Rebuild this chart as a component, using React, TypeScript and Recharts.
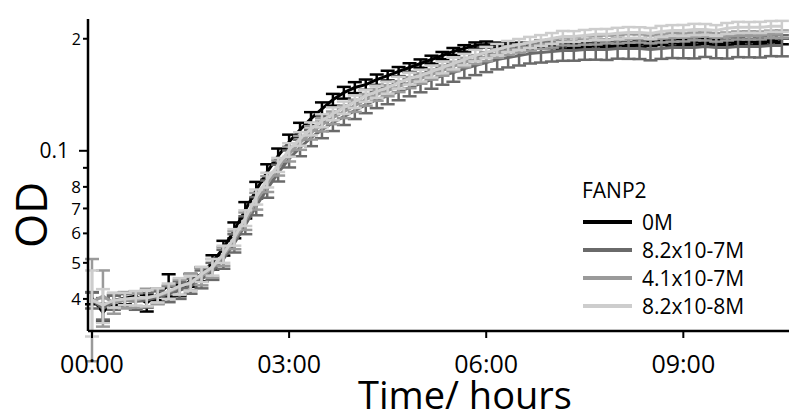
import React from 'react';
import { LineChart, Line, XAxis, YAxis, ErrorBar, Legend, Label } from 'recharts';

// sampling times, minutes from start
const times = [
  0, 10, 20, 30, 40, 50, 60, 70, 80, 90, 100, 110, 120, 130, 140, 150,
  160, 170, 180, 190, 200, 210, 220, 230, 240, 250, 260, 270, 280, 290, 300, 310,
  320, 330, 340, 350, 360, 370, 380, 390, 400, 410, 420, 430, 440, 450, 460, 470,
  480, 490, 500, 510, 520, 530, 540, 550, 560, 570, 580, 590, 600, 610, 620, 630,
];

// OD readings per FANP2 concentration
const od0M = [
  0.0402, 0.0368, 0.0397, 0.0402, 0.0407, 0.0390, 0.0412, 0.0436, 0.0422, 0.0449, 0.0466, 0.0502, 0.0548, 0.0612, 0.0693, 0.0785,
  0.0878, 0.0969, 0.1057, 0.1139, 0.1220, 0.1297, 0.1372, 0.1433, 0.1479, 0.1506, 0.1553, 0.1593, 0.1633, 0.1674, 0.1716, 0.1759,
  0.1803, 0.1849, 0.1884, 0.1919, 0.1931, 0.1919, 0.1919, 0.1919, 0.1907, 0.1919, 0.1919, 0.1907, 0.1919, 0.1919, 0.1907, 0.1919,
  0.1919, 0.1931, 0.1931, 0.1943, 0.1955, 0.1943, 0.1955, 0.1955, 0.1967, 0.1955, 0.1955, 0.1967, 0.1955, 0.1967, 0.1955, 0.1967,
];
const od82e7 = [
  0.0397, 0.0377, 0.0392, 0.0397, 0.0394, 0.0397, 0.0404, 0.0412, 0.0422, 0.0433, 0.0452, 0.0475, 0.0512, 0.0565, 0.0632, 0.0711,
  0.0790, 0.0872, 0.0952, 0.1019, 0.1084, 0.1139, 0.1190, 0.1235, 0.1282, 0.1330, 0.1372, 0.1406, 0.1442, 0.1479, 0.1516, 0.1553,
  0.1593, 0.1623, 0.1663, 0.1695, 0.1727, 0.1759, 0.1781, 0.1803, 0.1826, 0.1838, 0.1849, 0.1860, 0.1860, 0.1872, 0.1872, 0.1872,
  0.1884, 0.1884, 0.1884, 0.1872, 0.1884, 0.1895, 0.1895, 0.1895, 0.1907, 0.1895, 0.1895, 0.1907, 0.1907, 0.1907, 0.1919, 0.1919,
];
const od41e7 = [
  0.0392, 0.0407, 0.0390, 0.0397, 0.0397, 0.0404, 0.0407, 0.0417, 0.0430, 0.0444, 0.0460, 0.0484, 0.0521, 0.0576, 0.0648, 0.0733,
  0.0815, 0.0900, 0.0981, 0.1051, 0.1118, 0.1175, 0.1227, 0.1274, 0.1322, 0.1372, 0.1415, 0.1451, 0.1488, 0.1525, 0.1564, 0.1603,
  0.1643, 0.1685, 0.1727, 0.1759, 0.1791, 0.1826, 0.1860, 0.1884, 0.1907, 0.1931, 0.1943, 0.1967, 0.1967, 0.1980, 0.1980, 0.1992,
  0.1992, 0.2004, 0.2004, 0.1992, 0.2004, 0.2017, 0.2017, 0.2029, 0.2029, 0.2017, 0.2029, 0.2042, 0.2042, 0.2042, 0.2055, 0.2055,
];
const od82e8 = [
  0.0397, 0.0385, 0.0397, 0.0400, 0.0402, 0.0402, 0.0409, 0.0420, 0.0433, 0.0441, 0.0466, 0.0487, 0.0528, 0.0586, 0.0660, 0.0752,
  0.0835, 0.0917, 0.1006, 0.1077, 0.1146, 0.1205, 0.1258, 0.1306, 0.1355, 0.1406, 0.1442, 0.1479, 0.1525, 0.1564, 0.1593, 0.1633,
  0.1674, 0.1716, 0.1759, 0.1803, 0.1838, 0.1872, 0.1907, 0.1931, 0.1955, 0.1980, 0.2004, 0.2029, 0.2029, 0.2042, 0.2055, 0.2055,
  0.2068, 0.2080, 0.2080, 0.2068, 0.2093, 0.2106, 0.2106, 0.2119, 0.2119, 0.2106, 0.2133, 0.2146, 0.2146, 0.2146, 0.2160, 0.2160,
];

// standard errors
const err0M = [
  0.0015, 0.0020, 0.0012, 0.0015, 0.0012, 0.0020, 0.0015, 0.0030, 0.0015, 0.0018, 0.0020, 0.0022, 0.0025, 0.0030, 0.0035, 0.0040,
  0.0042, 0.0045, 0.0048, 0.0050, 0.0050, 0.0052, 0.0050, 0.0052, 0.0050, 0.0048, 0.0050, 0.0048, 0.0046, 0.0045, 0.0044, 0.0042,
  0.0040, 0.0040, 0.0038, 0.0036, 0.0035, 0.0034, 0.0034, 0.0033, 0.0034, 0.0033, 0.0032, 0.0034, 0.0031, 0.0033, 0.0035, 0.0032,
  0.0033, 0.0030, 0.0034, 0.0033, 0.0032, 0.0035, 0.0031, 0.0033, 0.0034, 0.0032, 0.0030, 0.0033, 0.0035, 0.0032, 0.0033, 0.0034,
];
const err82e7 = [
  0.0020, 0.0025, 0.0018, 0.0015, 0.0020, 0.0018, 0.0015, 0.0020, 0.0022, 0.0020, 0.0025, 0.0025, 0.0030, 0.0032, 0.0035, 0.0040,
  0.0042, 0.0045, 0.0050, 0.0052, 0.0055, 0.0058, 0.0060, 0.0062, 0.0065, 0.0068, 0.0070, 0.0072, 0.0075, 0.0078, 0.0080, 0.0085,
  0.0088, 0.0090, 0.0095, 0.0098, 0.0100, 0.0104, 0.0106, 0.0108, 0.0110, 0.0112, 0.0112, 0.0115, 0.0114, 0.0116, 0.0115, 0.0118,
  0.0116, 0.0118, 0.0120, 0.0122, 0.0118, 0.0120, 0.0122, 0.0124, 0.0120, 0.0122, 0.0125, 0.0122, 0.0124, 0.0126, 0.0123, 0.0125,
];
const err41e7 = [
  0.0120, 0.0070, 0.0025, 0.0020, 0.0018, 0.0022, 0.0020, 0.0018, 0.0020, 0.0022, 0.0025, 0.0028, 0.0030, 0.0032, 0.0035, 0.0038,
  0.0040, 0.0042, 0.0045, 0.0045, 0.0046, 0.0048, 0.0048, 0.0050, 0.0050, 0.0050, 0.0052, 0.0050, 0.0050, 0.0052, 0.0050, 0.0050,
  0.0052, 0.0050, 0.0050, 0.0048, 0.0050, 0.0048, 0.0050, 0.0048, 0.0050, 0.0052, 0.0050, 0.0048, 0.0050, 0.0052, 0.0050, 0.0048,
  0.0050, 0.0052, 0.0050, 0.0048, 0.0050, 0.0052, 0.0050, 0.0048, 0.0050, 0.0052, 0.0050, 0.0050, 0.0052, 0.0050, 0.0048, 0.0050,
];
const err82e8 = [
  0.0080, 0.0040, 0.0018, 0.0015, 0.0018, 0.0020, 0.0018, 0.0020, 0.0022, 0.0020, 0.0022, 0.0025, 0.0028, 0.0030, 0.0032, 0.0035,
  0.0038, 0.0040, 0.0042, 0.0045, 0.0046, 0.0048, 0.0050, 0.0050, 0.0052, 0.0052, 0.0054, 0.0055, 0.0056, 0.0058, 0.0058, 0.0060,
  0.0060, 0.0062, 0.0062, 0.0064, 0.0064, 0.0065, 0.0066, 0.0066, 0.0068, 0.0066, 0.0068, 0.0070, 0.0068, 0.0070, 0.0068, 0.0070,
  0.0072, 0.0070, 0.0068, 0.0070, 0.0072, 0.0070, 0.0072, 0.0074, 0.0072, 0.0070, 0.0072, 0.0074, 0.0072, 0.0074, 0.0072, 0.0074,
];

const yTicks = [0.04, 0.05, 0.06, 0.07, 0.08, 0.09, 0.1, 0.2];
const yTickLabels = ['4', '5', '6', '7', '8', '', '0.1', '2'];
const xTicks = [0, 180, 360, 540];

const series = [
  { key: 'c0', err: 'e0', name: '0M', color: '#000000' },
  { key: 'c1', err: 'e1', name: '8.2x10-7M', color: '#6a6a6a' },
  { key: 'c2', err: 'e2', name: '4.1x10-7M', color: '#9a9a9a' },
  { key: 'c3', err: 'e3', name: '8.2x10-8M', color: '#cdcdcd' },
];

const data = times.map((t, i) => ({
  t,
  c0: od0M[i], c1: od82e7[i], c2: od41e7[i], c3: od82e8[i],
  e0: err0M[i], e1: err82e7[i], e2: err41e7[i], e3: err82e8[i],
}));

const fmtTime = (m: number) => {
  const h = Math.floor(m / 60);
  const mm = m % 60;
  return `${String(h).padStart(2, '0')}:${String(mm).padStart(2, '0')}`;
};

const YTick = (props: any) => {
  const { x, y, payload } = props;
  const idx = yTicks.indexOf(payload.value);
  const label = yTickLabels[idx] ?? '';
  const long = payload.value === 0.1;
  const len = long ? 9 : 5;
  const size = long ? 21 : payload.value === 0.2 ? 16 : 17;
  return (
    <g>
      <line x1={x - len} x2={x} y1={y} y2={y} stroke="#000" strokeWidth={2} />
      {label && (
        <text x={x - len - (long ? 10 : 2)} y={y} dy="0.36em" textAnchor="end" fontSize={size} fill="#000">
          {label}
        </text>
      )}
    </g>
  );
};

// legend drawn in series order (recharts would sort the names)
const LegendBox = () => (
  <svg width={214} height={150} style={{ display: 'block' }}>
    <text x={7} y={28} fontSize={21} fill="#000">FANP2</text>
    {series.map((s, i) => {
      const cy = 52 + i * 28;
      return (
        <g key={s.key}>
          <line x1={8} x2={57} y1={cy} y2={cy} stroke={s.color} strokeWidth={4} />
          <text x={67} y={cy + 7.5} fontSize={21} fill="#000">{s.name}</text>
        </g>
      );
    })}
  </svg>
);

export default function App() {
  return (
    <div style={{ position: 'absolute', left: 0, top: 0, width: 789, height: 417, background: '#fff', fontFamily: '"Open Sans", sans-serif' }}>
      <LineChart width={789} height={417} data={data} margin={{ top: 19, right: 0, bottom: 0, left: 0 }}>
        <XAxis
          dataKey="t"
          type="number"
          domain={[-3.65, 636.5]}
          allowDataOverflow
          ticks={xTicks}
          interval={0}
          tickFormatter={fmtTime}
          height={86}
          tickSize={7}
          tickMargin={17}
          axisLine={{ stroke: '#000', strokeWidth: 2.5 }}
          tickLine={{ stroke: '#000', strokeWidth: 2 }}
          tick={{ fill: '#000', fontSize: 25 }}
        >
          <Label
            content={() => (
              <text x={465} y={409} textAnchor="middle" fontSize={38} fill="#000">Time/ hours</text>
            )}
          />
        </XAxis>
        <YAxis
          scale="log"
          type="number"
          domain={[0.0328, 0.226]}
          allowDataOverflow
          ticks={yTicks}
          interval={0}
          width={88}
          tickSize={0}
          tickMargin={0}
          tickLine={false}
          axisLine={{ stroke: '#000', strokeWidth: 2.5 }}
          tick={<YTick />}
        >
          <Label
            content={() => (
              <text x={47} y={215} transform="rotate(-90, 47, 215)" textAnchor="middle" fontSize={44} fill="#000">OD</text>
            )}
          />
        </YAxis>
        <Legend
          layout="vertical"
          align="center"
          verticalAlign="middle"
          wrapperStyle={{ left: 575, top: 170, width: 214, height: 150 }}
          content={<LegendBox />}
        />
        {series.map((s) => (
          <Line
            key={s.key}
            dataKey={s.key}
            name={s.name}
            type="linear"
            stroke={s.color}
            strokeWidth={3}
            dot={false}
            isAnimationActive={false}
          >
            <ErrorBar dataKey={s.err} width={7} strokeWidth={2.5} stroke={s.color} direction="y" isAnimationActive={false} />
          </Line>
        ))}
      </LineChart>
    </div>
  );
}
